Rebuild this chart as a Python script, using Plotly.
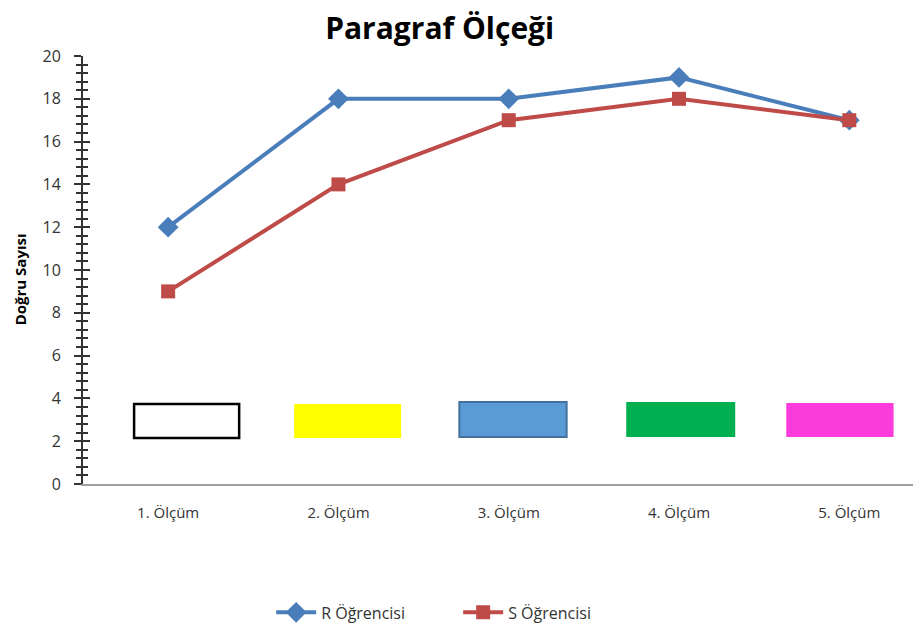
import plotly.graph_objects as go

categories = ["1. Ölçüm", "2. Ölçüm", "3. Ölçüm", "4. Ölçüm", "5. Ölçüm"]
r_values = [12, 18, 18, 19, 17]
s_values = [9, 14, 17, 18, 17]
y_ticks = [0, 2, 4, 6, 8, 10, 12, 14, 16, 18, 20]

x_idx = list(range(len(categories)))

fig = go.Figure()
fig.add_trace(go.Scatter(
    x=x_idx, y=r_values, mode="lines+markers", name="R Öğrencisi",
    line=dict(color="#4A7EBB", width=4),
    marker=dict(symbol="diamond", size=16, color="#4A7EBB"),
))
fig.add_trace(go.Scatter(
    x=x_idx, y=s_values, mode="lines+markers", name="S Öğrencisi",
    line=dict(color="#BE4B48", width=4),
    marker=dict(symbol="square", size=14, color="#BE4B48"),
))

# colored boxes
boxes = [
    (-0.2, 0.417, 2.15, 3.74, "white", "black", 2.5),
    (0.74, 1.368, 2.15, 3.74, "#FFFF00", "#FFFF00", 0),
    (1.71, 2.34, 2.2, 3.83, "#5B9BD5", "#41719C", 2),
    (2.69, 3.33, 2.2, 3.83, "#00B050", "#00B050", 0),
    (3.63, 4.26, 2.2, 3.78, "#FB3BDB", "#FB3BDB", 0),
]
for x0, x1, y0, y1, fill, border, w in boxes:
    fig.add_shape(type="rect", x0=x0, x1=x1, y0=y0, y1=y1, xref="x", yref="y",
                  fillcolor=fill, line=dict(color=border, width=w), layer="above")

fig.add_annotation(
    text="<b>Doğru Sayısı</b>", textangle=-90, xref="paper", yref="paper",
    x=-0.0765, y=0.477, xanchor="center", yanchor="middle", showarrow=False,
    font=dict(family="Open Sans", size=15, color="black"),
)

fig.update_layout(
    width=905, height=617,
    margin=dict(l=75, r=0, t=48, b=141, autoexpand=False),
    paper_bgcolor="white", plot_bgcolor="white",
    title=dict(text="<b>Paragraf Ölçeği</b>", x=0.477, xanchor="center", y=0.966, yanchor="middle",
               font=dict(family="Open Sans", size=30, color="black")),
    font=dict(family="Open Sans", color="#333333"),
    showlegend=True,
    legend=dict(orientation="h", x=0.452, xanchor="center", y=-0.3, yanchor="middle",
                font=dict(size=16, color="#333333"), itemwidth=40,
                entrywidth=132, entrywidthmode="pixels"),
    xaxis=dict(
        range=[-0.5, 4.374], tickmode="array", tickvals=x_idx, ticktext=categories,
        showgrid=False, zeroline=False, showline=True, linecolor="#A0A0A0", linewidth=2,
        ticks="", tickfont=dict(size=15, color="#333333"), automargin=False,
        ticklabelstandoff=14,
    ),
    yaxis=dict(
        range=[0, 20], tickmode="array", tickvals=y_ticks,
        showgrid=False, zeroline=False, showline=True, linecolor="#333333", linewidth=2,
        ticks="outside", ticklen=7, tickwidth=2, tickcolor="#333333",
        minor=dict(dtick=0.4, ticks="outside", ticklen=5, tickwidth=1.5, tickcolor="#333333"),
        tickfont=dict(size=16, color="#333333"), automargin=False,
        ticklabelstandoff=10,
    ),
    yaxis2=dict(
        range=[0, 20], overlaying="y", side="left", anchor="x",
        tickmode="array", tickvals=y_ticks, showticklabels=False,
        showgrid=False, zeroline=False, showline=False,
        ticks="inside", ticklen=7, tickwidth=2, tickcolor="#333333",
        minor=dict(dtick=0.4, ticks="inside", ticklen=5, tickwidth=1.5, tickcolor="#333333"),
    ),
)
fig.add_trace(go.Scatter(x=[None], y=[None], yaxis="y2", showlegend=False, hoverinfo="skip"))

fig.write_html("out.html")
